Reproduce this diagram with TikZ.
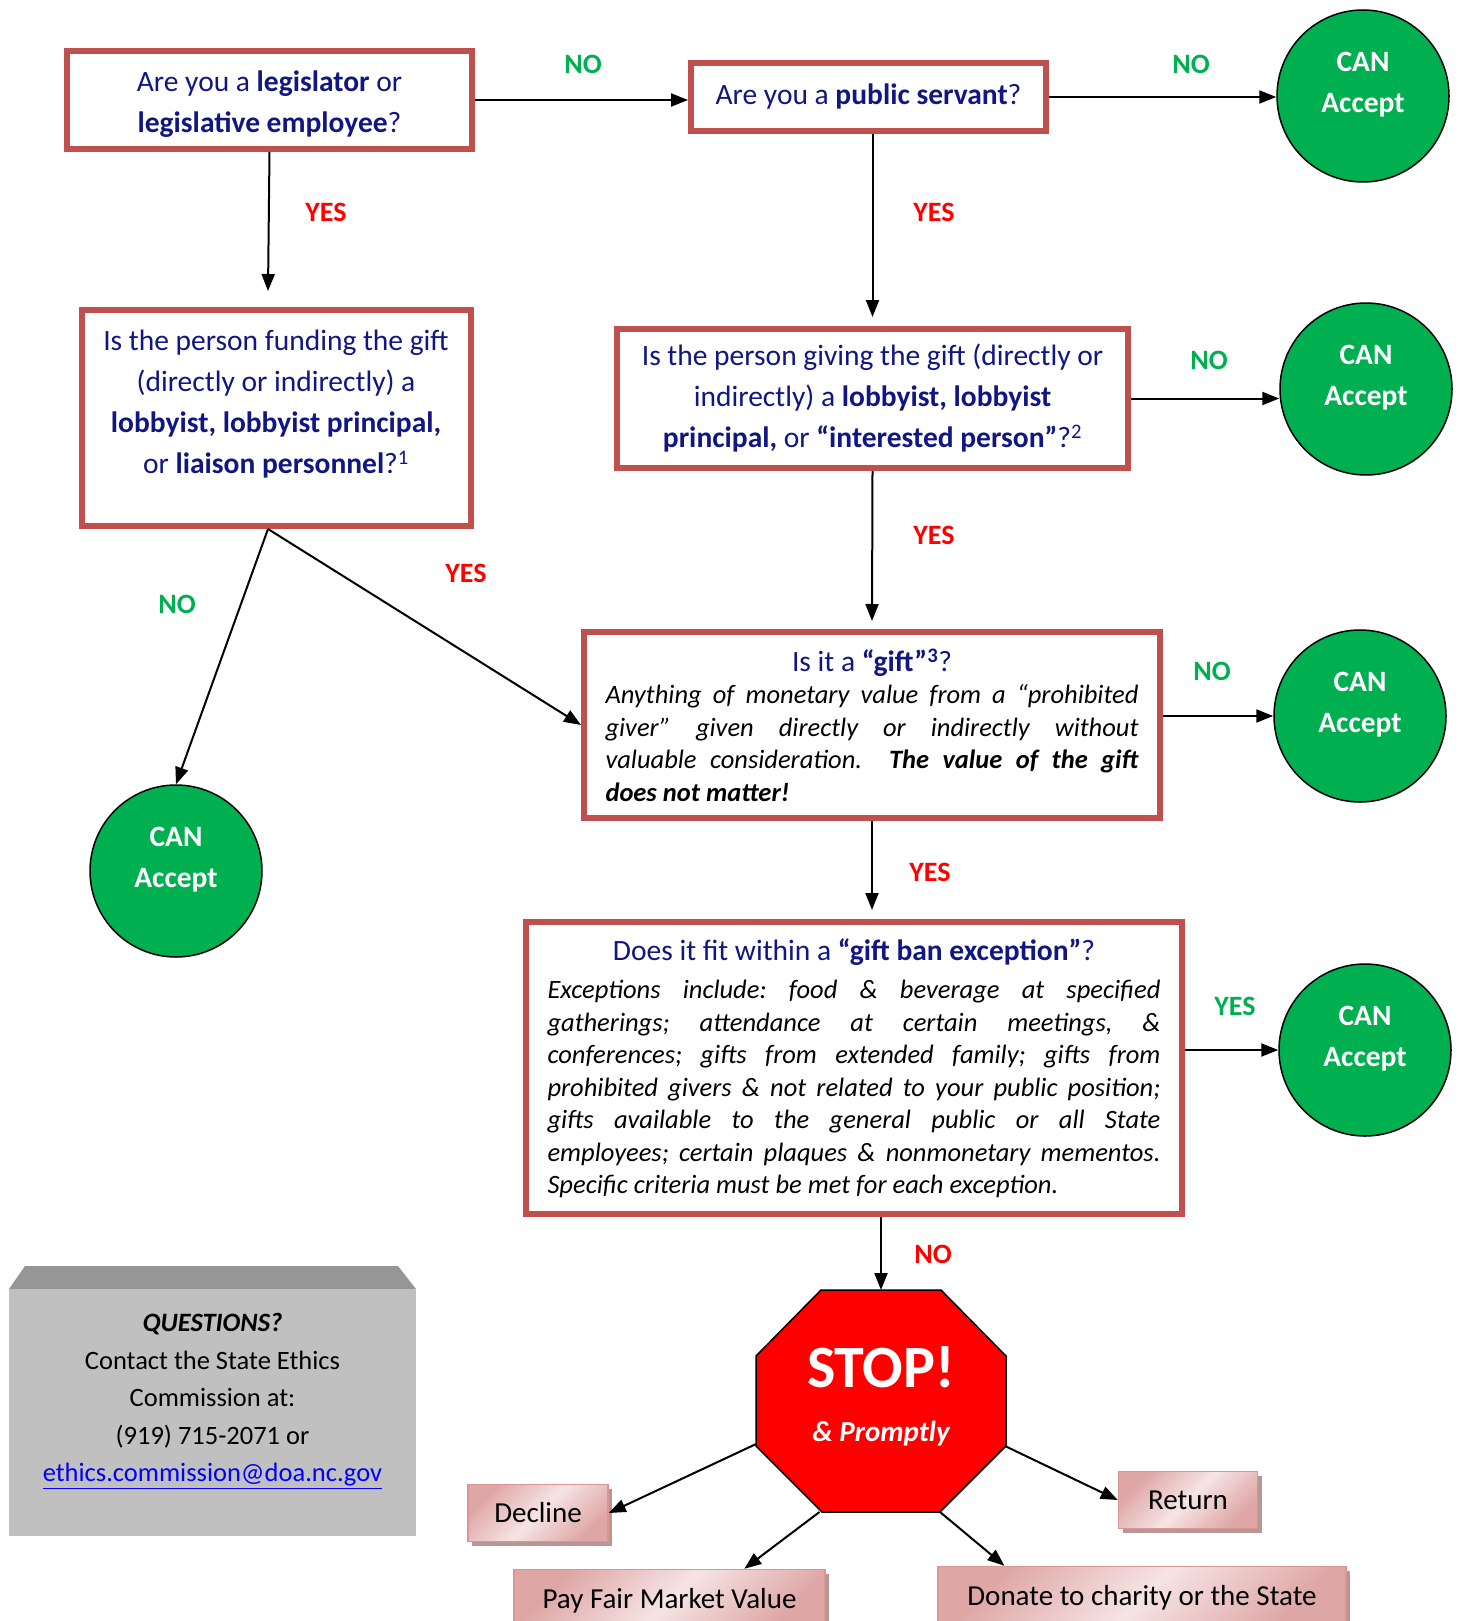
\documentclass[tikz,border=0pt]{standalone}
\usepackage{fontspec}
\setmainfont{Carlito}
\usepackage{tikz}
\usetikzlibrary{calc,positioning,arrows.meta,shapes.geometric,shadows}
\definecolor{boxred}{RGB}{192,80,77}
\definecolor{txtblue}{RGB}{16,22,130}
\definecolor{cangreen}{RGB}{0,176,80}
\definecolor{stopred}{RGB}{255,0,0}
\definecolor{lblred}{RGB}{255,0,0}
\definecolor{pinklt}{RGB}{246,228,228}
\definecolor{pinkdk}{RGB}{222,166,165}
\definecolor{pinkline}{RGB}{217,150,148}
\definecolor{pinkshade}{RGB}{185,150,150}
\definecolor{asklight}{RGB}{192,192,192}
\definecolor{askdark}{RGB}{150,150,150}
\definecolor{maillink}{RGB}{0,0,255}
\newcommand{\setfs}[2]{\fontsize{#1}{#2}\selectfont}
\tikzset{
	>={Stealth[length=17pt,width=13pt,inset=0pt]},
	flow/.style={->, line width=2pt},
	qbox/.style={draw=boxred, line width=6pt, fill=white, text=txtblue, align=center,
		inner sep=0pt, font=\setfs{29.5}{41}},
	gbox/.style={qbox, text=black, align=justify},
	accept/.style={circle, draw=black, line width=1.5pt, fill=cangreen, minimum size=172pt,
		inner sep=0pt, label={[white, align=center, font=\setfs{29.5}{41}\bfseries, yshift=11pt]center:CAN\\Accept}},
	greenlbl/.style={text=cangreen, font=\setfs{28}{28}\bfseries},
	redlbl/.style={text=lblred, font=\setfs{28}{28}\bfseries},
	stopline/.style={fill=stopred, draw=black, line width=1.5pt, line join=miter},
	act/.style={draw=pinkline, line width=1.5pt, top color=pinkdk, bottom color=pinkdk,
		middle color=pinklt, shading angle=45, minimum height=57pt, inner sep=0pt,
		font=\setfs{29}{29}, drop shadow={shadow xshift=4pt, shadow yshift=-4pt, fill=pinkshade, opacity=1}},
	asktxt/.style={align=center, font=\setfs{26.5}{37.5}},
}

\begin{document}
\begin{tikzpicture}[x=1pt, y=-1pt]
	\useasboundingbox (0,0) rectangle (1463,1621);

	% questions
	\node[qbox, minimum width=405pt, minimum height=98pt] (q1) at (269.5,100)
		{\rule{0pt}{29pt}Are you a \textbf{legislator} or\\ \textbf{legislative employee}?};
	\node[qbox, minimum width=355pt, minimum height=68pt] (q2) at (868.5,97)
		{Are you a \textbf{public servant}?};
	\node[qbox, minimum width=389pt, minimum height=216pt] (q3) at (276,418)
		{Is the person funding the gift\\ (directly or indirectly) a\\
		\textbf{lobbyist, lobbyist principal,}\\ or \textbf{liaison personnel}?\textsuperscript{1}\\[-8pt]\mbox{}};
	\node[qbox, minimum width=511pt, minimum height=139pt] (q4) at (872.5,398.5)
		{Is the person giving the gift (directly or\\ indirectly) a \textbf{lobbyist, lobbyist}\\
		\textbf{principal,} or \textbf{“interested person”}?\textsuperscript{2}};
	\node[gbox, text width=533pt, minimum width=576pt, minimum height=186pt] (q5) at (872,725)
		{{\centering\color{txtblue}Is it a \textbf{“gift”\textsuperscript{3}}?\par}
		\setfs{26.5}{32.5}\itshape\frenchspacing\tolerance=9999\hyphenpenalty=10000
		Anything of monetary value from a “prohibited\linebreak
		giver” given directly or indirectly without\linebreak
		valuable consideration.\ \ \textbf{The value of the gift\linebreak
		does not matter!}\par};
	\node[gbox, text width=613pt, minimum width=656pt, minimum height=292pt] (q6) at (854,1068)
		{{\centering\color{txtblue}Does it fit within a \textbf{“gift ban exception”}?\par}
		\vspace{6pt}
		\setfs{26.5}{32.5}\itshape\frenchspacing\tolerance=9999\hyphenpenalty=10000
		Exceptions include: food \& beverage at specified\linebreak
		gatherings; attendance at certain meetings, \&\linebreak
		conferences; gifts from extended family; gifts from\linebreak
		prohibited givers \& not related to your public position;\linebreak
		gifts available to the general public or all State\linebreak
		employees; certain plaques \& nonmonetary mementos.\linebreak
		Specific criteria must be met for each exception.\par};

	% answers
	\node[accept] (c1) at (1363,96) {};
	\node[accept] (c2) at (1366,389) {};
	\node[accept] (c3) at (1360,716) {};
	\node[accept] (c4) at (176,871) {};
	\node[accept] (c5) at (1365,1050) {};

	% stop sign
	\node[minimum width=250pt, minimum height=222pt, inner sep=0pt, outer sep=0pt] (stop) at (881,1401) {};
	\draw[stopline] ([xshift=-60pt]stop.north) -- ([xshift=60pt]stop.north)
		-- ([yshift=45pt]stop.east) -- ([yshift=-45pt]stop.east)
		-- ([xshift=59pt]stop.south) -- ([xshift=-59pt]stop.south)
		-- ([yshift=-45pt]stop.west) -- ([yshift=45pt]stop.west) -- cycle;
	\node[white, font=\setfs{60}{60}\bfseries] (stoptxt) at ([yshift=34pt]stop.center) {STOP!};
	\node[white, font=\setfs{29}{29}\bfseries\itshape] (promptxt) at ([yshift=-33pt]stop.center) {\& Promptly};

	\node[act, minimum width=140pt] (decl) at (538,1513) {Decline};
	\node[act, minimum width=139pt] (ret) at (1188,1500) {Return};
	\node[act, minimum width=311pt, minimum height=62pt] (pay) at (669.5,1600.5) {Pay Fair Market Value};
	\node[act, minimum width=408pt, minimum height=62pt] (don) at (1142,1597.5) {Donate to charity or the State};

	% connectors
	\draw[flow] (q1.east) -- (q1.east -| q2.west);
	\draw[flow] (q2.east) -- (q2.east -| c1.west);
	\draw[flow] (q1.south) -- ([xshift=-8pt,yshift=16pt]q3.north);
	\draw[flow] (q4.north |- q2.south) -- ([yshift=9pt]q4.north);
	\draw[flow] (q4.east) -- (q4.east -| c2.west);
	\draw[flow] (q4.south) -- ([yshift=8pt]q5.north);
	\draw[flow] ([xshift=-8pt]q3.south) -- (q5.west);
	\draw[flow] ([xshift=-8pt]q3.south) -- (c4.north);
	\draw[flow] (q5.east |- c3) -- (c3.west);
	\draw[flow] (q5.south) -- ($(q5.south |- q6.north)+(0,-9)$);
	\draw[flow] (q6.east |- c5) -- (c5.west);
	\draw[flow] (stop.north |- q6.south) -- (stop.north);
	\draw[flow] (stop.199.8) -- (decl.east);
	\draw[flow] (stop.241.6) -- (pay.23);
	\draw[flow] (stop.298.4) -- (don.167.1);
	\draw[flow] (stop.340.2) -- (ret.west);

	% yes / no
	\node[greenlbl] (no1) at (583,64) {NO};
	\node[greenlbl] (no2) at (1191,64) {NO};
	\node[redlbl] (yes1) at (326,212) {YES};
	\node[redlbl] (yes2) at (934,212) {YES};
	\node[greenlbl] (no3) at (1209,360) {NO};
	\node[redlbl] (yes3) at (934,535) {YES};
	\node[redlbl] (yes4) at (466,573) {YES};
	\node[greenlbl] (no4) at (177,604) {NO};
	\node[greenlbl] (no5) at (1212,671) {NO};
	\node[redlbl] (yes5) at (930,872) {YES};
	\node[greenlbl] (yes6) at (1235,1006) {YES};
	\node[redlbl] (no6) at (933,1254) {NO};

	% contact panel
	\fill[askdark] (25,1266) -- (398,1266) -- (416,1289) -- (9,1289) -- cycle;
	\fill[asklight] (9,1289) rectangle (416,1536);
	\node[asktxt] (ask) at (212.5,1401)
		{\textbf{\textit{QUESTIONS?}}\\ Contact the State Ethics\\ Commission at:\\
		(919) 715-2071 or\\ \textcolor{maillink}{\underline{ethics.commission@doa.nc.gov}}};
\end{tikzpicture}
\end{document}
